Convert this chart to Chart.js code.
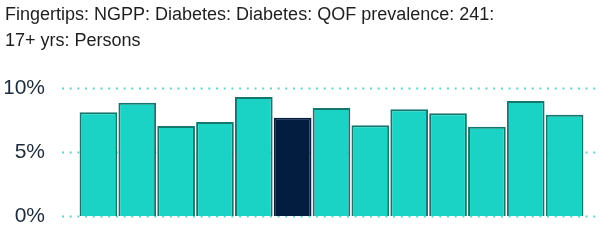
<!DOCTYPE html>
<html lang="en">
<head>
    <meta charset="UTF-8">
    <title>Diabetes QOF prevalence</title>
    <style>
        html, body { margin: 0; padding: 0; background: #ffffff; overflow: hidden; }
        canvas { display: block; }
    </style>
</head>
<body>
    <canvas id="prevChart" width="615" height="245"></canvas>

    <script src="https://cdn.jsdelivr.net/npm/chart.js"></script>
    <script>
        // Datos
        const practices = ['1', '2', '3', '4', '5', '6', '7', '8', '9', '10', '11', '12', '13'];
        const prevalence = [8.1, 8.85, 7.03, 7.34, 9.3, 7.68, 8.44, 7.08, 8.33, 8.02, 6.98, 8.98, 7.91];
        const highlighted = '6';
        const yTicks = [0, 5, 10];
        const titleLines = ['Fingertips: NGPP: Diabetes: Diabetes: QOF prevalence: 241:', '17+ yrs: Persons'];

        const teal = '#1bd3c5';
        const tealBorder = '#15766d';
        const navy = '#021d3f';

        // lineas punteadas que sobresalen del area del grafico (detras de las barras)
        const dottedGrid = {
            id: 'dottedGrid',
            beforeDatasetsDraw(chart) {
                const { ctx, chartArea, scales } = chart;
                ctx.save();
                ctx.strokeStyle = '#5ad8cc';
                ctx.lineWidth = 2;
                ctx.setLineDash([2, 5.7]);
                yTicks.forEach(v => {
                    const y = Math.round(scales.y.getPixelForValue(v)) + 0.5;
                    ctx.beginPath();
                    ctx.moveTo(chartArea.left - 17, y);
                    ctx.lineTo(chartArea.right + 14, y);
                    ctx.stroke();
                });
                ctx.restore();
            }
        };

        const ctx = document.getElementById('prevChart').getContext('2d');
        new Chart(ctx, {
            type: 'bar',
            data: {
                labels: practices,
                datasets: [{
                    data: prevalence,
                    backgroundColor: practices.map(p => p === highlighted ? navy : teal),
                    borderColor: practices.map(p => p === highlighted ? navy : tealBorder),
                    borderWidth: 2,
                    categoryPercentage: 1,
                    barPercentage: 0.97
                }]
            },
            options: {
                responsive: false,
                animation: false,
                layout: { padding: { left: 5, right: 31, top: 0, bottom: 29 } },
                scales: {
                    x: {
                        display: false
                    },
                    y: {
                        min: 0,
                        max: 10,
                        afterBuildTicks: axis => { axis.ticks = yTicks.map(v => ({ value: v })); },
                        afterFit: axis => {
                            axis.width = 74;
                            axis.paddingTop = 0;
                            axis.paddingBottom = 0;
                        },
                        grid: { display: false, drawTicks: false },
                        border: { display: false },
                        ticks: {
                            padding: 34,
                            color: '#1d2b3c',
                            font: { family: 'Liberation Sans', size: 21 },
                            callback: v => v + '%'
                        }
                    }
                },
                plugins: {
                    legend: { display: false },
                    tooltip: { enabled: false },
                    title: {
                        display: true,
                        text: titleLines,
                        align: 'start',
                        color: '#1e1e1e',
                        font: { family: 'Liberation Sans', size: 18, weight: 'normal', lineHeight: 1.43 },
                        padding: { top: 2, bottom: 34.5 }
                    }
                }
            },
            plugins: [dottedGrid]
        });
    </script>
</body>
</html>
